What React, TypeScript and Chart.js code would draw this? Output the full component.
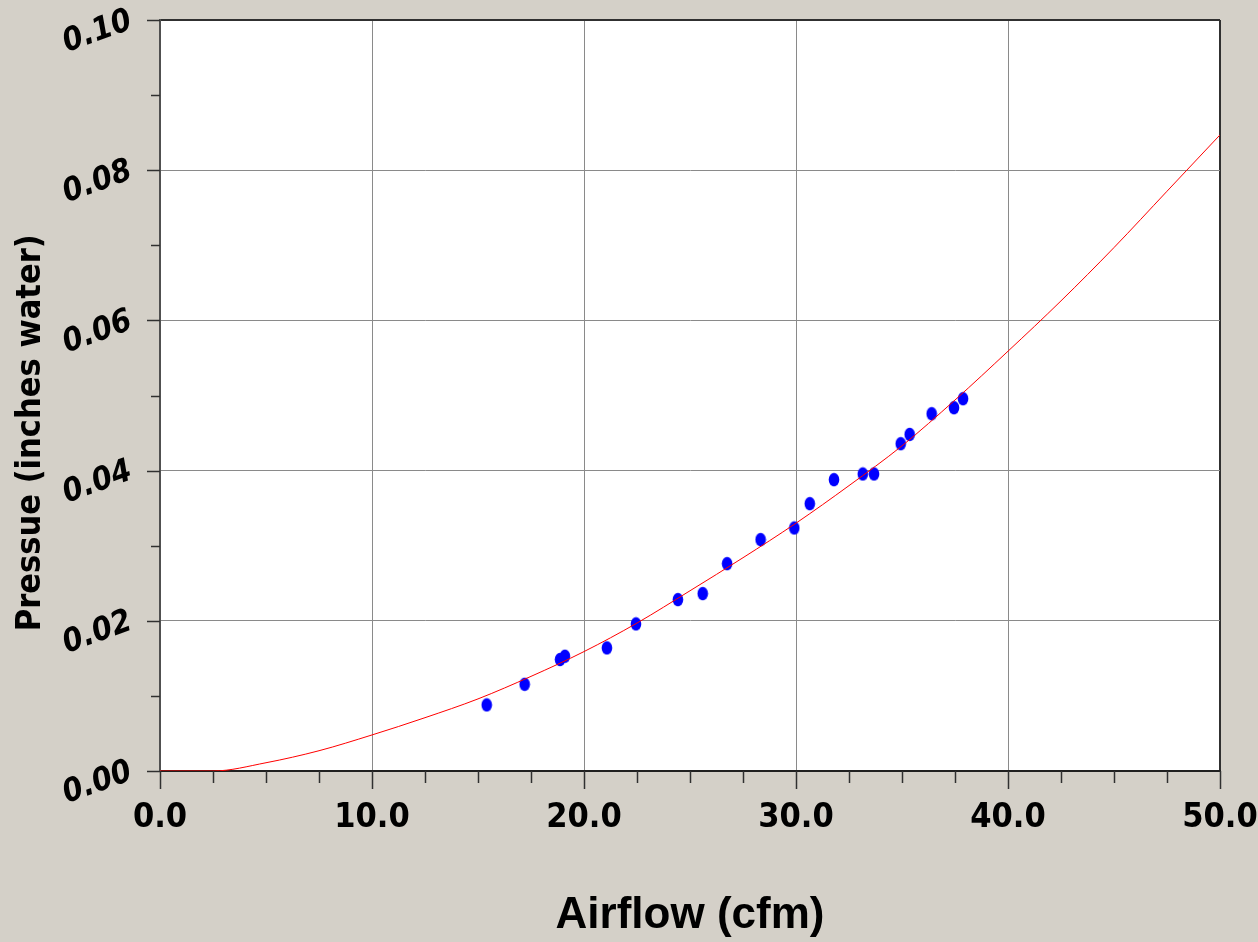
import React, { useEffect, useRef } from 'react';
import { Chart, registerables } from 'chart.js';

Chart.register(...registerables);

// Measured points (airflow cfm, pressure inches water)
const measuredAirflow = [15.41, 17.2, 18.87, 19.1, 21.08, 22.45, 24.43, 25.6, 26.75, 28.33, 29.92, 30.65, 31.79, 33.15, 33.68, 34.94, 35.36, 36.4, 37.45, 37.88];
const measuredPressure = [0.0088, 0.01155, 0.01484, 0.01528, 0.01639, 0.01959, 0.02282, 0.02362, 0.02761, 0.03081, 0.03236, 0.0356, 0.03879, 0.03955, 0.03955, 0.04358, 0.04482, 0.04757, 0.04837, 0.04957];

// Fitted curve
const fitAirflow = [0, 2.5, 5, 7.5, 10, 12.5, 15, 17.5, 20, 22.5, 25, 27.5, 30, 32.5, 35, 37.5, 40, 42.5, 45, 47.5, 50];
const fitPressure = [0, 0, 0.0011, 0.0027, 0.0048, 0.0071, 0.0096, 0.0126, 0.0159, 0.0197, 0.0240, 0.0284, 0.033, 0.038, 0.0433, 0.0494, 0.0559, 0.0626, 0.0697, 0.0772, 0.0847];

// Axis ticks
const xTickLabels = ['0.0', '10.0', '20.0', '30.0', '40.0', '50.0'];
const xMinorTicks = [2.5, 5, 7.5, 12.5, 15, 17.5, 22.5, 25, 27.5, 32.5, 35, 37.5, 42.5, 45, 47.5];
const yTickLabels = ['0.00', '0.02', '0.04', '0.06', '0.08', '0.10'];
const yMinorTicks = [0.01, 0.03, 0.05, 0.07, 0.09];

const xMajor = xTickLabels.map(parseFloat);
const yMajor = yTickLabels.map(parseFloat);
const isXMajor = (v: number) => xMajor.some((m) => Math.abs(m - v) < 1e-6);
const isYMajor = (v: number) => yMajor.some((m) => Math.abs(m - v) < 1e-6);

const NARROW = "'Liberation Sans Narrow', 'Arial Narrow', 'DejaVu Sans Condensed', 'Liberation Sans', Arial, sans-serif";
const SANS = "'Liberation Sans', Arial, sans-serif";

function makeDot(): HTMLCanvasElement {
  const c = document.createElement('canvas');
  c.width = 12;
  c.height = 15;
  const g = c.getContext('2d')!;
  g.fillStyle = '#0000ff';
  g.beginPath();
  g.ellipse(6, 7.5, 5.3, 6.8, 0, 0, Math.PI * 2);
  g.fill();
  return c;
}

const plotBackground = {
  id: 'plotBackground',
  beforeDraw(chart: any) {
    const { ctx, chartArea } = chart;
    ctx.save();
    ctx.fillStyle = '#ffffff';
    ctx.fillRect(chartArea.left, chartArea.top, chartArea.right - chartArea.left, chartArea.bottom - chartArea.top);
    ctx.restore();
  },
};

const tickMarks = {
  id: 'tickMarks',
  afterDraw(chart: any) {
    const { ctx, chartArea } = chart;
    const x = chart.scales.x;
    const y = chart.scales.y;
    ctx.save();
    ctx.strokeStyle = '#303030';
    ctx.lineWidth = 1.5;
    ctx.beginPath();
    x.ticks.forEach((t: any) => {
      const px = Math.round(x.getPixelForValue(t.value)) + 0.5;
      const len = isXMajor(t.value) ? 18 : 12;
      ctx.moveTo(px, chartArea.bottom);
      ctx.lineTo(px, chartArea.bottom + len);
    });
    y.ticks.forEach((t: any) => {
      const py = Math.round(y.getPixelForValue(t.value)) + 0.5;
      const len = isYMajor(t.value) ? 13 : 9;
      ctx.moveTo(chartArea.left, py);
      ctx.lineTo(chartArea.left - len, py);
    });
    ctx.stroke();
    ctx.restore();
  },
};

const zeroPadding = (scale: any) => {
  scale.paddingTop = 0;
  scale.paddingBottom = 0;
  scale.paddingLeft = 0;
  scale.paddingRight = 0;
};

export default function App() {
  const ref = useRef<HTMLCanvasElement | null>(null);

  useEffect(() => {
    if (!ref.current) return;
    const dot = makeDot();
    const chart = new Chart(ref.current, {
      type: 'scatter',
      data: {
        datasets: [
          {
            type: 'line',
            label: 'Fit',
            data: fitAirflow.map((v, i) => ({ x: v, y: fitPressure[i] })),
            borderColor: '#ff0000',
            borderWidth: 1,
            pointRadius: 0,
            cubicInterpolationMode: 'monotone',
            fill: false,
          } as any,
          {
            label: 'Measured',
            data: measuredAirflow.map((v, i) => ({ x: v, y: measuredPressure[i] })),
            pointStyle: dot as any,
            pointRadius: 6,
            backgroundColor: '#0000ff',
            borderColor: '#0000ff',
          },
        ],
      },
      options: {
        responsive: false,
        animation: false,
        devicePixelRatio: 1,
        layout: { padding: { top: 20, right: 38, left: 0, bottom: 0 } },
        plugins: { legend: { display: false }, tooltip: { enabled: false } },
        scales: {
          x: {
            type: 'linear',
            min: 0,
            max: 50,
            afterBuildTicks: (scale: any) => {
              scale.ticks = [...xMajor, ...xMinorTicks].sort((a, b) => a - b).map((v) => ({ value: v }));
            },
            afterFit: (scale: any) => {
              scale.height = 171;
              zeroPadding(scale);
            },
            grid: {
              drawTicks: false,
              color: (c: any) => {
                const v = c.tick ? c.tick.value : 0;
                if (Math.abs(v - 50) < 1e-6) return '#303030';
                return isXMajor(v) && v > 0 ? '#8a8a8a' : 'rgba(0,0,0,0)';
              },
              lineWidth: (c: any) => (c.tick && Math.abs(c.tick.value - 50) < 1e-6 ? 2 : 1),
            },
            border: { color: '#202020', width: 2 },
            ticks: {
              autoSkip: false,
              maxRotation: 0,
              padding: 27,
              color: '#000000',
              font: { family: NARROW, size: 34, weight: 'bold' },
              callback: (v: any) => {
                const i = xMajor.findIndex((m) => Math.abs(m - v) < 1e-6);
                return i >= 0 ? xTickLabels[i] : '';
              },
            },
            title: {
              display: true,
              text: 'Airflow (cfm)',
              color: '#000000',
              font: { family: SANS, size: 44, weight: 'bold' },
              padding: { bottom: 0, top: 0 },
            },
          },
          y: {
            type: 'linear',
            min: 0,
            max: 0.1,
            afterBuildTicks: (scale: any) => {
              scale.ticks = [...yMajor, ...yMinorTicks].sort((a, b) => a - b).map((v) => ({ value: v }));
            },
            afterFit: (scale: any) => {
              scale.width = 160;
              zeroPadding(scale);
            },
            grid: {
              drawTicks: false,
              color: (c: any) => {
                const v = c.tick ? c.tick.value : 0;
                if (Math.abs(v - 0.1) < 1e-6) return '#303030';
                return isYMajor(v) && v > 0 ? '#8a8a8a' : 'rgba(0,0,0,0)';
              },
              lineWidth: (c: any) => (c.tick && Math.abs(c.tick.value - 0.1) < 1e-6 ? 2 : 1),
            },
            border: { color: '#505050', width: 2 },
            ticks: {
              autoSkip: false,
              minRotation: 20,
              maxRotation: 20,
              padding: 29,
              color: '#000000',
              font: { family: NARROW, size: 32, weight: 'bold', style: 'italic' },
              callback: (v: any) => {
                const i = yMajor.findIndex((m) => Math.abs(m - v) < 1e-6);
                return i >= 0 ? yTickLabels[i] : '';
              },
            },
            title: {
              display: true,
              text: 'Pressue (inches water)       ',
              color: '#000000',
              font: { family: NARROW, size: 34, weight: 'bold' },
              padding: { top: 11, bottom: 0 },
            },
          },
        },
      },
      plugins: [plotBackground, tickMarks],
    });
    return () => chart.destroy();
  }, []);

  return (
    <div style={{ position: 'absolute', left: 0, top: 0, width: 1258, height: 942, background: '#d4d0c8', overflow: 'hidden' }}>
      <canvas ref={ref} width={1258} height={942} style={{ display: 'block' }} />
    </div>
  );
}
